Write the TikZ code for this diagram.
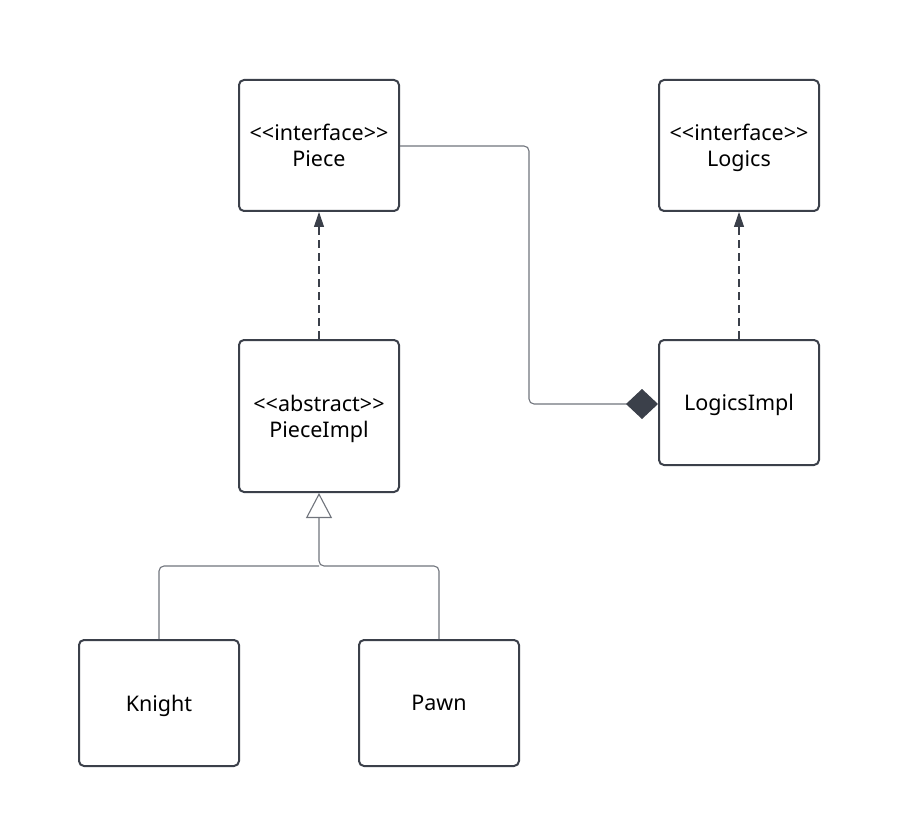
\documentclass[tikz,border=0pt]{standalone}
\usepackage{fontspec}
\setmainfont{Noto Sans}[Ligatures=TeXOff]
\usetikzlibrary{arrows.meta,positioning}
\definecolor{boxgray}{HTML}{3B404A}
\definecolor{linegray}{HTML}{70747C}

\begin{document}
\begin{tikzpicture}[x=1pt,y=-1pt,
    umlbox/.style={draw=boxgray, line width=2pt, rounded corners=5pt, fill=white,
      minimum width=160pt, align=center, font=\fontsize{21.5}{26}\selectfont,
      inner sep=0pt, text depth=0pt},
    conn/.style={draw=linegray, line width=1.1pt, rounded corners=5pt},
    realize/.style={draw=boxgray, line width=1.1pt, dash pattern=on 8pt off 5pt,
      -{Triangle[width=10pt,length=15pt]}},
    extends/.style={conn, -{Triangle[open,width=26pt,length=25pt,fill=white]}},
    owns/.style={conn, -{Diamond[width=30pt,length=32pt,fill=boxgray,color=boxgray]}}]
  \useasboundingbox (0,0) rectangle (924,813);

  % classes
  \node[umlbox, minimum height=131pt] (piece) at (319,145.5) {<<interface>>\\Piece};
  \node[umlbox, minimum height=131pt] (logics) at (739,145.5) {<<interface>>\\Logics};
  \node[umlbox, minimum height=152pt] (pieceimpl) at (319,416) {<<abstract>>\\PieceImpl};
  \node[umlbox, minimum height=125pt] (logicsimpl) at (739,402.5) {LogicsImpl};
  \node[umlbox, minimum height=126pt] (knight) at (159,703) {Knight};
  \node[umlbox, minimum height=126pt] (pawn) at (439,703) {Pawn};

  % relations
  \draw[realize] (pieceimpl.north) -- (piece.south);
  \draw[realize] (logicsimpl.north) -- (logics.south);
  \coordinate (bend) at (529,146);
  \draw[owns] (piece.east |- bend) -- (bend) |- (logicsimpl.west |- 0,404);
  \coordinate (join) at (319,566);
  \draw[conn] (knight.north) |- (join);
  \draw[extends] (pawn.north) |- (join) -- (pieceimpl.south);
\end{tikzpicture}
\end{document}
